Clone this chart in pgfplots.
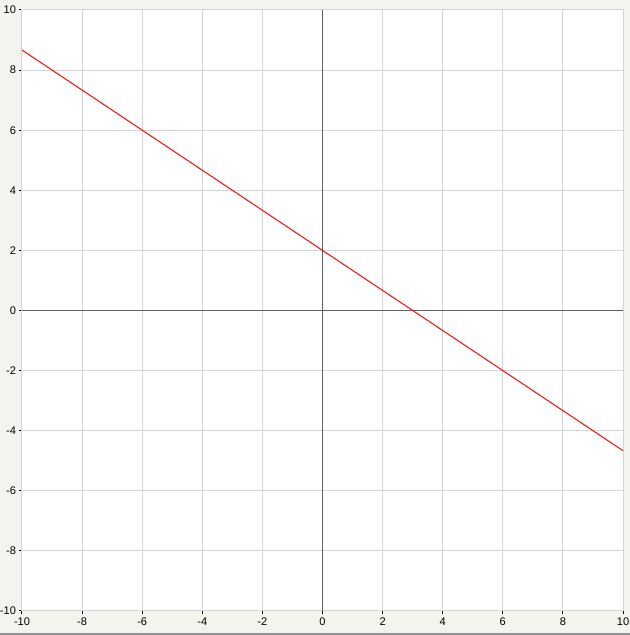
\documentclass[border=0pt]{standalone}
\usepackage{fontspec}
\setmainfont{Liberation Sans}
\usepackage{pgfplots}
\pgfplotsset{compat=1.18}
\definecolor{bgc}{HTML}{F4F4EF}
\definecolor{gridc}{HTML}{D4D4D4}
\definecolor{axc}{HTML}{606060}
\begin{document}
\begin{tikzpicture}[x=0.75pt,y=0.75pt]
\fill[bgc,use as bounding box] (-22,-24) rectangle (608,611);
\fill[axc!70] (-22,-24) rectangle (608,-22.5);
\begin{axis}[
  at={(0pt,0pt)}, anchor=south west,
  scale only axis, width=450.75pt, height=450.75pt,
  xmin=-10, xmax=10, ymin=-10, ymax=10,
  xtick={-10,-8,...,10}, ytick={-10,-8,...,10},
  xtick pos=bottom, ytick pos=left,
  axis background/.style={fill=white},
  axis line style={gridc, line width=0.75pt},
  grid=major, major grid style={gridc, line width=0.75pt},
  tick align=outside, major tick length=2.5pt,
  tick style={black, line width=0.75pt},
  ticklabel style={font=\fontsize{8.3}{9}\selectfont},
  /pgf/number format/assume math mode=true,
  xticklabel style={yshift=1pt},
  yticklabel style={xshift=1.5pt},
  clip=true,
]
\addplot[axc, line width=0.75pt] coordinates {(0,-10) (0,10)};
\addplot[axc, line width=0.75pt] coordinates {(-10,0) (10,0)};
\addplot[red, line width=0.75pt] coordinates {(-10,8.6667) (10,-4.6667)};
\end{axis}
\end{tikzpicture}
\end{document}
